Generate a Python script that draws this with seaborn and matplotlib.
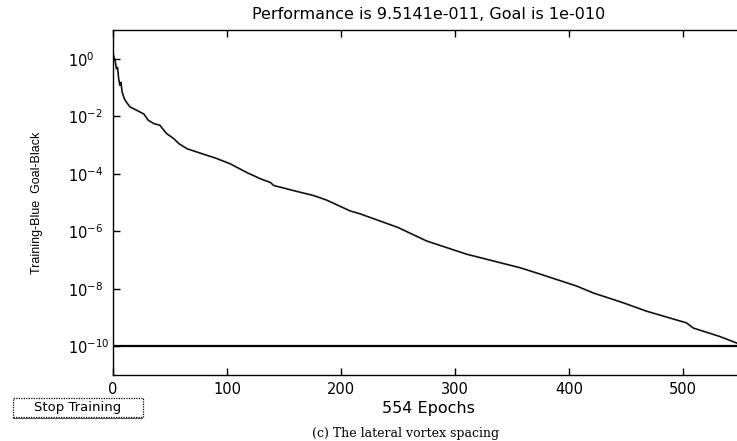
import matplotlib
matplotlib.use("Agg")
import matplotlib.pyplot as plt
from matplotlib.patches import Rectangle
import numpy as np
import pandas as pd
import seaborn as sns

# ---- data ----
epochs = [0, 1, 2, 3, 4, 5, 6, 7, 8, 10, 12, 15, 21, 27, 31, 36, 41, 47, 53, 58,
          65, 76, 90, 103, 117, 130, 138, 141, 160, 176, 187, 208, 217, 250, 275,
          284, 310, 345, 357, 375, 407, 421, 448, 468, 503, 509, 532, 547, 554]
performance = [1.5, 1.1, 0.8, 0.45, 0.5, 0.2, 0.12, 0.15, 0.07, 0.04, 0.03, 0.021,
               0.016, 0.012, 0.0072, 0.0055, 0.0049, 0.0025, 0.0017, 0.0011,
               7.4e-4, 5.3e-4, 3.5e-4, 2.2e-4, 1.12e-4, 6.5e-5, 5.0e-5, 3.9e-5,
               2.5e-5, 1.74e-5, 1.23e-5, 5.1e-6, 4.0e-6, 1.35e-6, 4.6e-7, 3.5e-7,
               1.6e-7, 7.1e-8, 5.4e-8, 3.2e-8, 1.23e-8, 7.2e-9, 3.2e-9, 1.66e-9,
               6.5e-10, 4.3e-10, 2.2e-10, 1.3e-10, 9.5141e-11]
goal = 1e-10
n_epochs = 554
xticks = [0, 100, 200, 300, 400, 500]
yticks = [1e0, 1e-2, 1e-4, 1e-6, 1e-8, 1e-10]

title = "Performance is 9.5141e-011, Goal is 1e-010"
ylabel = "Training-Blue  Goal-Black"
xlabel = "554 Epochs"
caption = "(c) The lateral vortex spacing"
button = "Stop Training"

# ---- figure ----
sns.set_theme(style="ticks")
plt.rcParams['font.family'] = ['DejaVu Sans']
plt.rcParams['mathtext.fontset'] = 'dejavusans'
plt.rcParams['axes.unicode_minus'] = False

W, H = 737, 441
fig = plt.figure(figsize=(W / 100, H / 100), dpi=100)
fig.patch.set_facecolor("white")
left, right, top, bottom = 113, 744.6, 30, 375
ax = fig.add_axes([left / W, 1 - bottom / H, (right - left) / W, (bottom - top) / H])
ax.set_facecolor("white")

df = pd.DataFrame({"epoch": epochs, "perf": performance})
sns.lineplot(data=df, x="epoch", y="perf", ax=ax, color="#111111", linewidth=1.2,
             estimator=None)
ax.axhline(goal, color="black", linewidth=1.6)

ax.set_yscale("log")
ax.set_xlim(0, n_epochs)
ax.set_ylim(1e-11, 1e1)
ax.set_xticks(xticks)
ax.set_xticklabels([str(t) for t in xticks])
ax.set_yticks(yticks)
ax.yaxis.set_minor_locator(matplotlib.ticker.NullLocator())
ax.tick_params(axis="both", which="major", direction="in", length=5, width=1,
               color="black", labelsize=10.5, labelcolor="black", top=True, right=True)
ax.tick_params(axis="y", pad=45 * 0.72)
ax.tick_params(axis="x", pad=5)
for lab in ax.get_yticklabels():
    lab.set_horizontalalignment("left")
for s in ax.spines.values():
    s.set_color("black")
    s.set_linewidth(1)
    s.set_visible(True)

ax.set_title(title, fontsize=11.5, pad=8, color="black")
ax.set_xlabel(xlabel, fontsize=11.5, labelpad=3, color="black")
ax.set_ylabel(ylabel, fontsize=9, color="black", family="Liberation Sans")
ax.yaxis.set_label_coords((43 - left) / (right - left), 0.5)

# caption
fig.text(406 / W, 1 - 433 / H, caption, ha="center", va="center",
         fontsize=9, family="DejaVu Serif", color="black")

# stop training button
bx0, bx1, by0, by1 = 13, 143, 398, 417
fig.patches.append(Rectangle((bx0 / W, 1 - by1 / H), (bx1 - bx0) / W, (by1 - by0) / H,
                             transform=fig.transFigure, facecolor="white",
                             edgecolor="black", linewidth=0.9, linestyle=(0, (1, 1))))
fig.patches.append(Rectangle((bx0 / W, 1 - (by1 + 2) / H), (bx1 - bx0) / W, 1.2 / H,
                             transform=fig.transFigure, facecolor="#555555",
                             edgecolor="none"))
fig.text((bx0 + bx1) / 2 / W, 1 - (by0 + by1) / 2 / H, button, ha="center",
         va="center", fontsize=9.5, color="black")

fig.savefig("out.png", dpi=100, facecolor="white")
